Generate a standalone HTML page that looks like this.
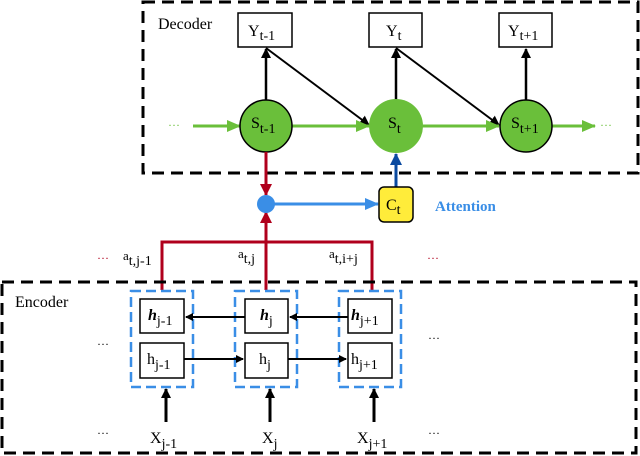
<!DOCTYPE html>
<html><head><meta charset="utf-8"><style>
html,body{margin:0;padding:0;background:#fff}
svg{display:block}
text{font-family:"Liberation Serif",serif;}
</style></head><body>
<svg width="640" height="456" viewBox="0 0 640 456" xmlns="http://www.w3.org/2000/svg">
<defs>
<marker id="ak" markerWidth="8" markerHeight="8" refX="7" refY="4" orient="auto" markerUnits="userSpaceOnUse"><path d="M0,0 L8,4 L0,8 z" fill="#000"/></marker>
<marker id="ak2" markerWidth="10" markerHeight="10" refX="9" refY="5" orient="auto" markerUnits="userSpaceOnUse"><path d="M0,0 L10,5 L0,10 z" fill="#000"/></marker>
<marker id="ag" markerWidth="14" markerHeight="12" refX="13" refY="6" orient="auto" markerUnits="userSpaceOnUse"><path d="M0,0 L14,6 L0,12 z" fill="#6abf3a"/></marker>
<marker id="ar" markerWidth="12" markerHeight="14" refX="11" refY="6" orient="auto" markerUnits="userSpaceOnUse"><path d="M0,0 L12,6 L0,12 z" fill="#b0001c"/></marker>
<marker id="ab" markerWidth="14" markerHeight="12" refX="13" refY="6" orient="auto" markerUnits="userSpaceOnUse"><path d="M0,0 L14,6 L0,12 z" fill="#3a8ee6"/></marker>
<marker id="adb" markerWidth="12" markerHeight="14" refX="11" refY="6" orient="auto" markerUnits="userSpaceOnUse"><path d="M0,0 L12,6 L0,12 z" fill="#0a4aa0"/></marker>
</defs>
<rect x="143" y="2" width="495" height="171" fill="none" stroke="#000" stroke-width="3" stroke-dasharray="12,7"/>
<text x="158" y="29" font-size="16">Decoder</text>
<rect x="238" y="13" width="54" height="34" fill="#fff" stroke="#000" stroke-width="1.5"/>
<text x="248" y="36" font-size="16">Y<tspan font-size="14" dy="4">t-1</tspan></text>
<rect x="369" y="13" width="53" height="34" fill="#fff" stroke="#000" stroke-width="1.5"/>
<text x="386" y="36" font-size="16">Y<tspan font-size="14" dy="4">t</tspan></text>
<rect x="499" y="13" width="53" height="34" fill="#fff" stroke="#000" stroke-width="1.5"/>
<text x="508" y="36" font-size="16">Y<tspan font-size="14" dy="4">t+1</tspan></text>
<line x1="266" y1="100" x2="266" y2="49" stroke="#000" stroke-width="2.5" marker-end="url(#ak2)"/>
<line x1="396" y1="100" x2="396" y2="49" stroke="#000" stroke-width="2.5" marker-end="url(#ak2)"/>
<line x1="526" y1="100" x2="526" y2="49" stroke="#000" stroke-width="2.5" marker-end="url(#ak2)"/>
<line x1="266" y1="48" x2="369" y2="125" stroke="#000" stroke-width="2" marker-end="url(#ak2)"/>
<line x1="396" y1="48" x2="499" y2="125" stroke="#000" stroke-width="2" marker-end="url(#ak2)"/>
<text x="168" y="129" font-size="12" fill="#6abf3a">···</text>
<line x1="193" y1="126" x2="240" y2="126" stroke="#6abf3a" stroke-width="3" marker-end="url(#ag)"/>
<line x1="292" y1="126" x2="369" y2="126" stroke="#6abf3a" stroke-width="3" marker-end="url(#ag)"/>
<line x1="423" y1="126" x2="499" y2="126" stroke="#6abf3a" stroke-width="3" marker-end="url(#ag)"/>
<line x1="552" y1="126" x2="595" y2="126" stroke="#6abf3a" stroke-width="3" marker-end="url(#ag)"/>
<text x="600" y="129" font-size="12" fill="#6abf3a">···</text>
<ellipse cx="266" cy="126" rx="26" ry="26" fill="#6abf3a" stroke="#000" stroke-width="1.5"/>
<text x="251" y="128" font-size="16">S<tspan font-size="14" dy="5">t-1</tspan></text>
<ellipse cx="396" cy="126" rx="27" ry="27" fill="#6abf3a"/>
<text x="388" y="128" font-size="16">S<tspan font-size="14" dy="5">t</tspan></text>
<ellipse cx="526" cy="126" rx="26" ry="26" fill="#6abf3a" stroke="#000" stroke-width="1.5"/>
<text x="511" y="128" font-size="16">S<tspan font-size="14" dy="5">t+1</tspan></text>
<line x1="266" y1="152" x2="266" y2="195" stroke="#b0001c" stroke-width="3" marker-end="url(#ar)"/>
<line x1="266" y1="242" x2="266" y2="212" stroke="#b0001c" stroke-width="3" marker-end="url(#ar)"/>
<polyline points="162,290 162,242 372,242 372,290" fill="none" stroke="#b0001c" stroke-width="3"/>
<line x1="266" y1="242" x2="266" y2="290" stroke="#b0001c" stroke-width="3"/>
<line x1="266" y1="204" x2="378" y2="204" stroke="#3a8ee6" stroke-width="3" marker-end="url(#ab)"/>
<circle cx="266" cy="204" r="9" fill="#3a8ee6"/>
<line x1="396" y1="187" x2="396" y2="154" stroke="#0a4aa0" stroke-width="3" marker-end="url(#adb)"/>
<rect x="379" y="187" width="34" height="35" rx="5" fill="#ffec3a" stroke="#000" stroke-width="1.5"/>
<text x="386" y="210" font-size="16">C<tspan font-size="14" dy="4">t</tspan></text>
<text x="435" y="211" font-size="15" font-weight="bold" fill="#3a8ee6">Attention</text>
<text x="97" y="262" font-size="12" fill="#b0001c">···</text>
<text x="123" y="260" font-size="13">a<tspan font-size="14" dy="5">t,j-1</tspan></text>
<text x="238" y="258" font-size="13">a<tspan font-size="14" dy="5">t,j</tspan></text>
<text x="329" y="258" font-size="13">a<tspan font-size="14" dy="5">t,i+j</tspan></text>
<text x="427" y="262" font-size="12" fill="#b0001c">···</text>
<rect x="2" y="282" width="634" height="171" fill="none" stroke="#000" stroke-width="3" stroke-dasharray="12,7"/>
<text x="15" y="307" font-size="16">Encoder</text>
<text x="97" y="348" font-size="12">···</text>
<text x="97" y="437" font-size="12">···</text>
<text x="428" y="342" font-size="12">···</text>
<text x="428" y="437" font-size="12">···</text>
<rect x="131" y="291" width="62" height="96" fill="none" stroke="#3a8ee6" stroke-width="2.5" stroke-dasharray="10,5"/>
<rect x="235" y="291" width="62" height="96" fill="none" stroke="#3a8ee6" stroke-width="2.5" stroke-dasharray="10,5"/>
<rect x="339" y="291" width="62" height="96" fill="none" stroke="#3a8ee6" stroke-width="2.5" stroke-dasharray="10,5"/>
<rect x="140" y="299" width="44" height="34" fill="#fff" stroke="#000" stroke-width="1.5"/>
<text x="148" y="320" font-size="16" font-style="italic" font-weight="bold">h<tspan font-size="14" font-style="normal" font-weight="normal" dy="5">j-1</tspan></text>
<rect x="245" y="299" width="43" height="34" fill="#fff" stroke="#000" stroke-width="1.5"/>
<text x="260" y="320" font-size="16" font-style="italic" font-weight="bold">h<tspan font-size="14" font-style="normal" font-weight="normal" dy="5">j</tspan></text>
<rect x="348" y="299" width="44" height="34" fill="#fff" stroke="#000" stroke-width="1.5"/>
<text x="351" y="320" font-size="16" font-style="italic" font-weight="bold">h<tspan font-size="14" font-style="normal" font-weight="normal" dy="5">j+1</tspan></text>
<rect x="140" y="343" width="44" height="35" fill="#fff" stroke="#000" stroke-width="1.5"/>
<text x="147" y="364" font-size="16">h<tspan font-size="14" dy="5">j-1</tspan></text>
<rect x="245" y="343" width="43" height="35" fill="#fff" stroke="#000" stroke-width="1.5"/>
<text x="259" y="364" font-size="16">h<tspan font-size="14" dy="5">j</tspan></text>
<rect x="348" y="343" width="44" height="35" fill="#fff" stroke="#000" stroke-width="1.5"/>
<text x="351" y="364" font-size="16">h<tspan font-size="14" dy="5">j+1</tspan></text>
<line x1="245" y1="317" x2="186" y2="317" stroke="#000" stroke-width="2" marker-end="url(#ak)"/>
<line x1="348" y1="317" x2="290" y2="317" stroke="#000" stroke-width="2" marker-end="url(#ak)"/>
<line x1="184" y1="359" x2="243" y2="359" stroke="#000" stroke-width="2" marker-end="url(#ak)"/>
<line x1="288" y1="359" x2="346" y2="359" stroke="#000" stroke-width="2" marker-end="url(#ak)"/>
<line x1="166" y1="422" x2="166" y2="389" stroke="#000" stroke-width="3" marker-end="url(#ak2)"/>
<line x1="270" y1="422" x2="270" y2="389" stroke="#000" stroke-width="3" marker-end="url(#ak2)"/>
<line x1="374" y1="422" x2="374" y2="389" stroke="#000" stroke-width="3" marker-end="url(#ak2)"/>
<text x="150" y="443" font-size="16">X<tspan font-size="14" dy="5">j-1</tspan></text>
<text x="262" y="443" font-size="16">X<tspan font-size="14" dy="5">j</tspan></text>
<text x="357" y="443" font-size="16">X<tspan font-size="14" dy="5">j+1</tspan></text>
</svg>
</body></html>
